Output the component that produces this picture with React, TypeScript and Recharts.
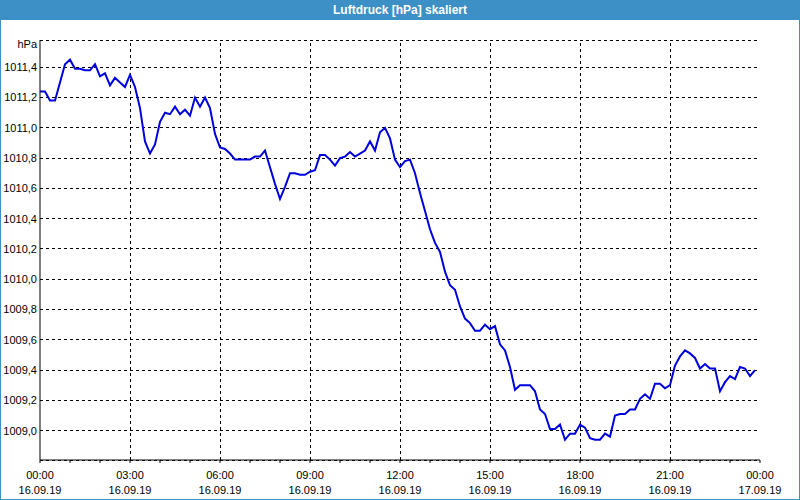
import { LineChart, Line, XAxis, YAxis, CartesianGrid, ReferenceLine } from 'recharts';

// 10-minute readings, 16.09.19 00:00 .. 12:00
const pressureFirstHalf = [
  1011.24, 1011.24, 1011.18, 1011.18, 1011.3, 1011.42, 1011.45, 1011.39, 1011.39, 1011.38,
  1011.38, 1011.42, 1011.34, 1011.36, 1011.28, 1011.33, 1011.3, 1011.27, 1011.35, 1011.27,
  1011.13, 1010.91, 1010.83, 1010.89, 1011.04, 1011.1, 1011.09, 1011.14, 1011.09, 1011.12,
  1011.08, 1011.2, 1011.14, 1011.2, 1011.13, 1010.96, 1010.87, 1010.86, 1010.83, 1010.79,
  1010.79, 1010.79, 1010.79, 1010.81, 1010.81, 1010.85, 1010.74, 1010.63, 1010.53, 1010.61,
  1010.7, 1010.7, 1010.69, 1010.69, 1010.71, 1010.72, 1010.82, 1010.82, 1010.79, 1010.75,
  1010.8, 1010.81, 1010.84, 1010.81, 1010.83, 1010.85, 1010.91, 1010.85, 1010.97, 1011.0,
  1010.93, 1010.79, 1010.74,
];

// 12:10 .. 23:50
const pressureSecondHalf = [
  1010.78, 1010.79, 1010.7, 1010.57, 1010.45, 1010.33, 1010.24, 1010.18, 1010.05, 1009.96,
  1009.93, 1009.82, 1009.74, 1009.71, 1009.66, 1009.66, 1009.7, 1009.67, 1009.69, 1009.57,
  1009.53, 1009.42, 1009.27, 1009.3, 1009.3, 1009.3, 1009.26, 1009.14, 1009.11, 1009.01,
  1009.01, 1009.04, 1008.94, 1008.98, 1008.98, 1009.04, 1009.02, 1008.95, 1008.94, 1008.94,
  1008.98, 1008.96, 1009.1, 1009.11, 1009.11, 1009.14, 1009.14, 1009.21, 1009.24, 1009.21,
  1009.31, 1009.31, 1009.28, 1009.3, 1009.43, 1009.49, 1009.53, 1009.51, 1009.48, 1009.41,
  1009.44, 1009.41, 1009.41, 1009.26, 1009.32, 1009.36, 1009.34, 1009.42, 1009.41, 1009.36,
  1009.4,
];

const yTicks = [1009.0, 1009.2, 1009.4, 1009.6, 1009.8, 1010.0, 1010.2, 1010.4, 1010.6, 1010.8, 1011.0, 1011.2, 1011.4];
const hourTicks = [0, 60, 120, 180, 240, 300, 360, 420, 480, 540, 600, 660, 720, 780, 840, 900, 960, 1020, 1080, 1140, 1200, 1260, 1320, 1380, 1440];
const gridHours = [180, 360, 540, 720, 900, 1080, 1260];
const labelTimes = ['00:00', '03:00', '06:00', '09:00', '12:00', '15:00', '18:00', '21:00', '00:00'];
const labelDates = ['16.09.19', '16.09.19', '16.09.19', '16.09.19', '16.09.19', '16.09.19', '16.09.19', '16.09.19', '17.09.19'];

const data = [...pressureFirstHalf, ...pressureSecondHalf].map((p, i) => ({ min: i * 10, p }));

const FONT = '"Liberation Sans", Arial, sans-serif';
const BLUE = '#3d90c6';

function TimeTick({ x, y, payload }: any) {
  const m = payload.value as number;
  if (m % 180 !== 0) return null;
  const i = m / 180;
  return (
    <text x={x} y={y} textAnchor="middle" fontSize={11} fontFamily={FONT} fill="#000">
      <tspan x={x} dy={14}>{labelTimes[i]}</tspan>
      <tspan x={x} dy={15}>{labelDates[i]}</tspan>
    </text>
  );
}

export default function App() {
  const domain: [number, number] = [1008.806, 1011.58];
  return (
    <div style={{ position: 'fixed', left: 0, top: 0, width: 800, height: 500, background: '#fff', overflow: 'hidden' }}>
      <LineChart
        width={800}
        height={500}
        data={data}
        margin={{ top: 40, right: 40, left: 0, bottom: 0 }}
        style={{ position: 'absolute', left: 0, top: 0 }}
      >
        <CartesianGrid vertical={false} stroke="#000" strokeDasharray="3 3" shapeRendering="crispEdges" />
        {gridHours.map((h) => (
          <ReferenceLine key={h} x={h} stroke="#000" strokeDasharray="3 3" shapeRendering="crispEdges" />
        ))}
        <XAxis
          dataKey="min"
          type="number"
          domain={[0, 1440]}
          ticks={hourTicks}
          interval={0}
          height={40}
          tickSize={3}
          stroke="#000"
          tickLine={{ stroke: '#000' }}
          tick={<TimeTick />}
        />
        <XAxis xAxisId="top" orientation="top" type="number" domain={[0, 1440]} height={0} tick={false} tickLine={false} stroke="#000" />
        <YAxis
          domain={domain}
          allowDataOverflow
          ticks={yTicks}
          interval={0}
          width={40}
          tickLine={false}
          tickSize={0}
          tickMargin={3}
          stroke="#000"
          tick={{ fill: '#000', fontSize: 11, fontFamily: FONT }}
          tickFormatter={(v: number) => v.toFixed(1).replace('.', ',')}
        />
        <YAxis yAxisId="right" orientation="right" domain={domain} width={0} tick={false} tickLine={false} stroke="#000" />
        <Line
          type="linear"
          dataKey="p"
          stroke="#0000dd"
          strokeWidth={2}
          dot={false}
          activeDot={false}
          isAnimationActive={false}
        />
      </LineChart>
      <div
        style={{
          position: 'absolute', left: 0, top: 0, width: 800, height: 20, background: BLUE,
          color: '#fff', fontFamily: FONT, fontWeight: 'bold', fontSize: 12, lineHeight: '20px', textAlign: 'center',
        }}
      >
        Luftdruck [hPa] skaliert
      </div>
      <div style={{ position: 'absolute', left: 0, top: 38, width: 37, textAlign: 'right', fontFamily: FONT, fontSize: 11, color: '#000' }}>
        hPa
      </div>
      <div style={{ position: 'absolute', left: 0, top: 0, width: 800, height: 500, boxSizing: 'border-box', border: `1px solid ${BLUE}`, pointerEvents: 'none' }} />
    </div>
  );
}
